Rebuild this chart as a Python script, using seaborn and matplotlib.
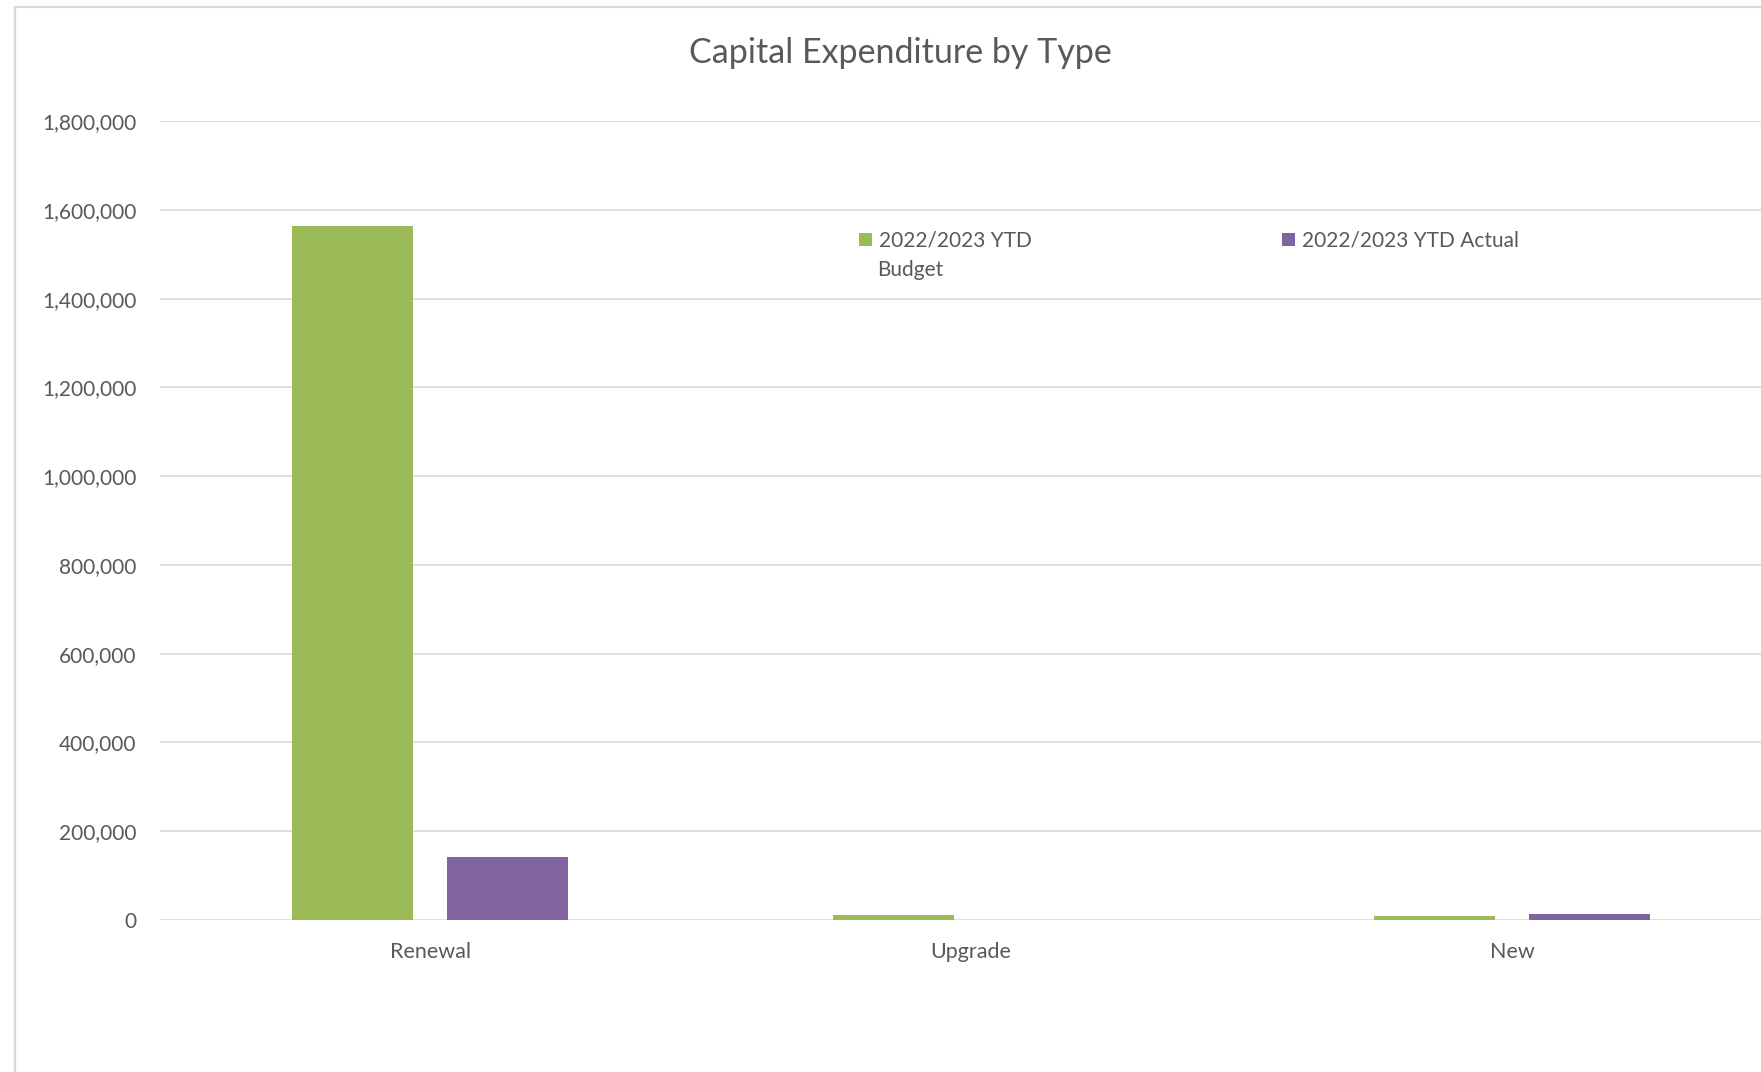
import matplotlib
matplotlib.use("Agg")
import matplotlib.pyplot as plt
import seaborn as sns
import pandas as pd
from matplotlib.lines import Line2D
from matplotlib.patches import Patch
from matplotlib.ticker import FuncFormatter

categories = ["Renewal", "Upgrade", "New"]
budget = [1564000, 10000, 8000]
actual = [141600, 0, 12000]
series_names = ["2022/2023 YTD Budget", "2022/2023 YTD Actual"]
colors = ["#9BBB59", "#8064A2"]
yticks = [0, 200000, 400000, 600000, 800000, 1000000, 1200000, 1400000, 1600000, 1800000]

df = pd.DataFrame({
    "Type": categories * 2,
    "Value": budget + actual,
    "Series": [series_names[0]] * len(categories) + [series_names[1]] * len(categories),
})

sns.set_theme(style="white")
plt.rcParams["font.family"] = ["Lato", "DejaVu Sans"]
TXT = "#595959"
GRID = "#D9D9D9"

W, H = 1761, 1072
fig = plt.figure(figsize=(W / 100, H / 100), dpi=100)
fig.patch.set_facecolor("white")

left, right = 159.5 / W, 1782.5 / W
bottom, top = (H - 919.8) / H, (H - 121.3) / H
ax = fig.add_axes([left, bottom, right - left, top - bottom])

sns.barplot(data=df, x="Type", y="Value", hue="Series", hue_order=series_names,
            palette=colors, width=0.573, gap=0.218, saturation=1, ax=ax,
            legend=False, errorbar=None, linewidth=0)

ax.set_xlim(-0.5, 2.5)
ax.set_ylim(0, 1800000)
ax.set_yticks(yticks)
ax.yaxis.set_major_formatter(FuncFormatter(lambda v, p: f"{int(v):,}"))
ax.set_axisbelow(True)
ax.grid(axis="y", color=GRID, linewidth=1.2)
ax.grid(axis="x", visible=False)
for s in ax.spines.values():
    s.set_visible(False)
ax.set_xlabel("")
ax.set_ylabel("")
ax.tick_params(axis="y", length=0, pad=16.5, labelsize=15, labelcolor=TXT)
ax.tick_params(axis="x", length=0, pad=16, labelsize=15.5, labelcolor=TXT)

# Title
fig.text(900 / W, 1 - 63 / H, "Capital Expenditure by Type", ha="center",
         va="baseline", fontsize=24.5, color=TXT)

# Legend (two entries)
leg_kw = dict(frameon=False, fontsize=15, handlelength=0.6, handleheight=0.6,
              handletextpad=0.35, borderpad=0, borderaxespad=0, loc="center left",
              labelcolor=TXT)
h1 = Patch(facecolor=colors[0], edgecolor="none")
h2 = Patch(facecolor=colors[1], edgecolor="none")
leg1 = fig.legend([h1], ["2022/2023 YTD"], bbox_to_anchor=(859 / W, 1 - 240.5 / H), **leg_kw)
leg2 = fig.legend([h2], ["2022/2023 YTD Actual"], bbox_to_anchor=(1282 / W, 1 - 240.5 / H), **leg_kw)
fig.text(877 / W, 1 - 270 / H, "Budget", ha="left", va="center", fontsize=15, color=TXT)

# Chart frame (left and top borders)
fig.add_artist(Line2D([15 / W, 15 / W], [0, 1 - 7 / H], transform=fig.transFigure,
                      color=GRID, linewidth=1.6))
fig.add_artist(Line2D([15 / W, 1], [1 - 7 / H, 1 - 7 / H], transform=fig.transFigure,
                      color=GRID, linewidth=1.6))

fig.savefig("out.png", dpi=100, facecolor="white")
